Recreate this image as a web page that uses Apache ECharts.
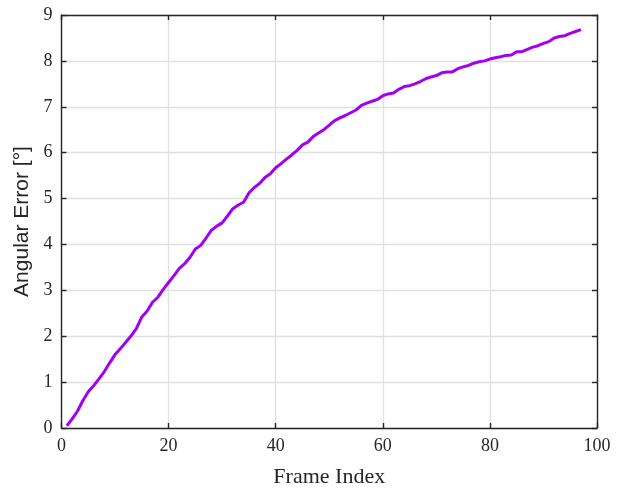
<!DOCTYPE html>
<html>
<head>
<meta charset="utf-8">
<script src="https://cdn.jsdelivr.net/npm/echarts@6/dist/echarts.min.js"></script>
<style>
html,body{margin:0;padding:0;background:#fff;}
#chart{width:627px;height:493px;}
</style>
</head>
<body>
<div id="chart"></div>
<script>
const frames = [];
for (let i = 1; i <= 97; i++) frames.push(i);
const angularError = [
  0.05, 0.20, 0.37, 0.60, 0.79, 0.92, 1.07, 1.23, 1.42, 1.60,
  1.73, 1.87, 2.01, 2.17, 2.42, 2.55, 2.74, 2.85, 3.02, 3.17,
  3.32, 3.48, 3.58, 3.72, 3.90, 3.98, 4.14, 4.31, 4.40, 4.47,
  4.62, 4.78, 4.86, 4.92, 5.12, 5.24, 5.33, 5.46, 5.54, 5.67,
  5.76, 5.86, 5.95, 6.05, 6.17, 6.23, 6.35, 6.43, 6.50, 6.60,
  6.70, 6.76, 6.81, 6.87, 6.93, 7.03, 7.08, 7.12, 7.16, 7.24,
  7.28, 7.30, 7.38, 7.44, 7.46, 7.50, 7.55, 7.61, 7.65, 7.68,
  7.74, 7.76, 7.76, 7.83, 7.87, 7.90, 7.95, 7.98, 8.00, 8.04,
  8.07, 8.09, 8.12, 8.13, 8.20, 8.20, 8.25, 8.30, 8.33, 8.38,
  8.42, 8.50, 8.53, 8.55, 8.60, 8.64, 8.68
];
const xTicks = [0, 20, 40, 60, 80, 100];
const yTicks = [0, 1, 2, 3, 4, 5, 6, 7, 8, 9];
const xLabel = 'Frame Index';
const yLabel = 'Angular Error [°]';

const axisColor = '#262626';
const serif = 'Liberation Serif';
const chart = echarts.init(document.getElementById('chart'), null, {renderer: 'canvas'});

const lineStyleAxis = {color: axisColor, width: 1.4};
chart.setOption({
  animation: false,
  backgroundColor: '#ffffff',
  grid: {left: 61.5, right: 30, top: 15, bottom: 59, containLabel: false},
  xAxis: [
    {
      type: 'value', min: 0, max: 100, interval: 20,
      position: 'bottom',
      name: xLabel, nameLocation: 'middle', nameGap: 38,
      nameTextStyle: {fontFamily: serif, fontSize: 22, color: axisColor},
      axisLine: {show: true, onZero: false, lineStyle: lineStyleAxis},
      axisTick: {show: true, inside: true, length: 5, lineStyle: lineStyleAxis},
      axisLabel: {fontFamily: serif, fontSize: 18, color: axisColor, margin: 9},
      splitLine: {show: true, lineStyle: {color: '#e0e0e0', width: 1.3}}
    },
    {
      type: 'value', min: 0, max: 100, interval: 20,
      position: 'top',
      axisLine: {show: true, onZero: false, lineStyle: lineStyleAxis},
      axisTick: {show: true, inside: true, length: 5, lineStyle: lineStyleAxis},
      axisLabel: {show: false},
      splitLine: {show: false}
    }
  ],
  yAxis: [
    {
      type: 'value', min: 0, max: 9, interval: 1,
      position: 'left',
      name: yLabel, nameLocation: 'middle', nameGap: 27, nameRotate: 90,
      nameTextStyle: {fontFamily: 'Liberation Sans', fontSize: 21, color: axisColor},
      axisLine: {show: true, onZero: false, lineStyle: lineStyleAxis},
      axisTick: {show: true, inside: true, length: 5, lineStyle: lineStyleAxis},
      axisLabel: {fontFamily: serif, fontSize: 18, color: axisColor, margin: 9},
      splitLine: {show: true, lineStyle: {color: '#e0e0e0', width: 1.3}}
    },
    {
      type: 'value', min: 0, max: 9, interval: 1,
      position: 'right',
      axisLine: {show: true, onZero: false, lineStyle: lineStyleAxis},
      axisTick: {show: true, inside: true, length: 5, lineStyle: lineStyleAxis},
      axisLabel: {show: false},
      splitLine: {show: false}
    }
  ],
  series: [{
    type: 'line',
    xAxisIndex: 0, yAxisIndex: 0,
    data: frames.map((f, i) => [f, angularError[i]]),
    showSymbol: false,
    smooth: false,
    lineStyle: {color: '#a200f2', width: 3},
    z: 5
  }]
});
</script>
</body>
</html>
